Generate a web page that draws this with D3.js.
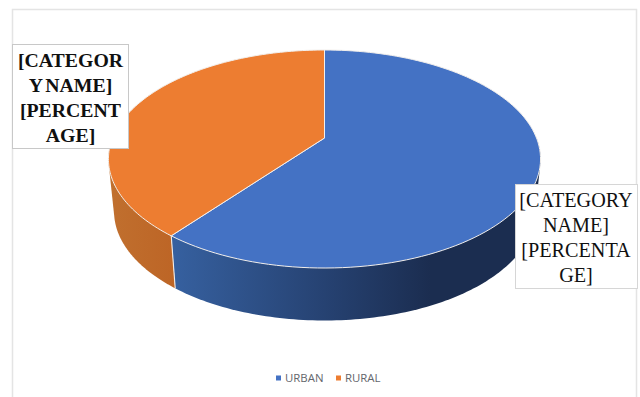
<!DOCTYPE html>
<html>
<head>
<meta charset="utf-8">
<script src="https://cdn.jsdelivr.net/npm/d3@7/dist/d3.min.js"></script>
<style>
html,body{margin:0;padding:0;background:#fff;overflow:hidden}
svg{display:block}
</style>
</head>
<body>
<svg id="chart" width="640" height="397"></svg>
<script>
const categories = ["URBAN", "RURAL"];
const shares = [60.5, 39.5];
const topColors = ["#4472C4", "#ED7D31"];
const sideStops = [
  [["0", "#36609f"], ["0.45", "#25406f"], ["0.72", "#1b2d50"], ["1", "#1b2d50"]],
  [["0", "#c06f2e"], ["1", "#bd6526"]]
];
const labelLines = [
  ["[CATEGORY", "NAME]", "[PERCENTA", "GE]"],
  ["[CATEGOR", "Y NAME]", "[PERCENT", "AGE]"]
];

const svg = d3.select("#chart");

// Chart frame: left, top and right edges only
svg.append("path")
  .attr("d", "M12.5,397V9.5H636.5V397")
  .attr("fill", "none").attr("stroke", "#e4e4e4").attr("stroke-width", 1.5);

// Tilted disc: perspective projection of a unit circle onto the screen
const cx = 324.5, apexY = 138, tilt = 0.1927;
const discScaleX = 212, discScaleY = 104.96;
const project = theta => {
  const u = Math.sin(theta), v = -Math.cos(theta);
  const w = 1 - tilt * v;
  return [cx + discScaleX * (u / w), apexY + discScaleY * (v / w)];
};
// Lower rim of the disc, a little narrower and further down
const lower = theta => {
  const [x, y] = project(theta);
  return [cx + (x - cx) * 0.974, y + 52.5];
};

const arcs = d3.pie().value(d => d).sort(null)(shares);
const steps = a => d3.range(0, 121).map(i => a.startAngle + (a.endAngle - a.startAngle) * i / 120);
const line = d3.line();

const defs = svg.append("defs");
sideStops.forEach((stops, i) => {
  const g = defs.append("linearGradient")
    .attr("id", "side" + i).attr("gradientUnits", "userSpaceOnUse")
    .attr("x1", i === 0 ? 174 : 112).attr("x2", i === 0 ? 530 : 174)
    .attr("y1", 0).attr("y2", 0);
  stops.forEach(s => g.append("stop").attr("offset", s[0]).attr("stop-color", s[1]));
});

// Side wall of each slice, limited to the half that faces the viewer
const frontFrom = Math.PI * 0.5, frontTo = Math.PI * 1.5;
arcs.forEach((a, i) => {
  const from = Math.max(a.startAngle, frontFrom), to = Math.min(a.endAngle, frontTo);
  const ts = d3.range(0, 121).map(k => from + (to - from) * k / 120);
  const hull = d3.polygonHull(ts.flatMap(t => [project(t), lower(t)]));
  svg.append("path")
    .attr("d", line(hull) + "Z")
    .attr("fill", `url(#side${i})`);
});

// Pale seam between the two side walls
const seam = arcs[0].endAngle;
svg.append("path")
  .attr("d", line([project(seam), lower(seam)]))
  .attr("stroke", "#f3ece6").attr("stroke-width", 1.1).attr("fill", "none");

// Top faces
arcs.forEach((a, i) => {
  const pts = [[cx, apexY], ...steps(a).map(t => project(t))];
  svg.append("path")
    .attr("d", line(pts) + "Z")
    .attr("fill", topColors[i])
    .attr("stroke", "#f2efec").attr("stroke-width", 1).attr("stroke-linejoin", "round");
});

// Data label boxes
const labelBoxes = [
  { x: 515.5, y: 184.5, w: 122, h: 104, cx: 576, weight: "normal", stroke: "#d6d6d6", size: 20.2, wordSpacing: 0 },
  { x: 12.5, y: 44.5, w: 116, h: 104, cx: 70.5, weight: "bold", stroke: "#c8c8c8", size: 19.8, wordSpacing: -2 }
];
labelBoxes.forEach((b, i) => {
  svg.append("rect")
    .attr("x", b.x).attr("y", b.y).attr("width", b.w).attr("height", b.h)
    .attr("fill", "#fff").attr("stroke", b.stroke).attr("stroke-width", 1);
  labelLines[i].forEach((t, j) => {
    svg.append("text")
      .attr("x", b.cx).attr("y", b.y + 22 + j * 25)
      .attr("text-anchor", "middle")
      .attr("font-family", "'Liberation Serif', serif")
      .attr("font-size", b.size)
      .attr("font-weight", b.weight)
      .attr("word-spacing", b.wordSpacing)
      .attr("fill", "#101010")
      .text(t);
  });
});

// Legend
const legendX = d3.scaleOrdinal().domain(categories).range([276, 336]);
categories.forEach((c, i) => {
  svg.append("rect")
    .attr("x", legendX(c)).attr("y", 375.5).attr("width", 5).attr("height", 5)
    .attr("fill", topColors[i]);
  svg.append("text")
    .attr("x", legendX(c) + 9).attr("y", 382)
    .attr("font-family", "'Open Sans', sans-serif")
    .attr("font-size", 11.4)
    .attr("fill", "#63666c")
    .text(c);
});
</script>
</body>
</html>
